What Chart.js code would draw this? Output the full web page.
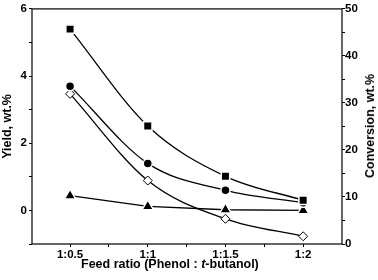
<!DOCTYPE html>
<html lang="en">
<head>
    <meta charset="UTF-8">
    <title>Yield and conversion vs feed ratio</title>
    <script src="https://cdn.jsdelivr.net/npm/chart.js"></script>
    <style>
        body {
            margin: 0;
            background: #fff;
        }
        .wrap {
            position: relative;
            width: 378px;
            height: 280px;
        }
        .x-title, .y2-title {
            position: absolute;
            font: bold 12.5px "Liberation Sans", Arial, sans-serif;
            color: #000;
            white-space: nowrap;
        }
        .x-title {
            left: 81px;
            top: 257px;
        }
        .y2-title {
            left: 370px;
            top: 126px;
            transform: translate(-50%, -50%) rotate(-90deg);
        }
    </style>
</head>
<body>
    <div class="wrap">
        <canvas id="chart" width="378" height="280"></canvas>
        <div class="x-title">Feed ratio (Phenol : <i>t</i>-butanol)</div>
        <div class="y2-title">Conversion, wt.%</div>
    </div>
    <script>
        // feed ratios on the x axis
        const ratios = ['1:0.5', '1:1', '1:1.5', '1:2'];
        // conversion, wt.% (right axis)
        const conversion = [45.7, 25.1, 14.4, 9.3];
        // yields, wt.% (left axis)
        const yieldCircle = [3.7, 1.4, 0.6, 0.23];
        const yieldDiamond = [3.47, 0.89, -0.25, -0.77];
        const yieldTriangle = [0.44, 0.12, 0.02, 0.0];
        const yieldTicks = [-1, 0, 1, 2, 3, 4, 5, 6];
        const convTicks = [0, 5, 10, 15, 20, 25, 30, 35, 40, 45, 50];

        const pts = arr => arr.map((v, i) => ({ x: i, y: v }));
        const font = { family: '"Liberation Sans", Arial, sans-serif', weight: 'bold', size: 11.5 };
        const titleFont = { family: '"Liberation Sans", Arial, sans-serif', weight: 'bold', size: 12.5 };

        const frame = {
            id: 'frame',
            afterDraw(chart) {
                const a = chart.chartArea, ctx = chart.ctx;
                ctx.save();
                ctx.strokeStyle = '#000';
                ctx.lineWidth = 1.2;
                ctx.strokeRect(a.left, a.top, a.right - a.left, a.bottom - a.top);
                ctx.restore();
            }
        };

        const base = {
            borderColor: '#000',
            borderWidth: 1.3,
            pointBackgroundColor: '#000',
            pointBorderColor: '#fff',
            pointBorderWidth: 1.5,
            cubicInterpolationMode: 'monotone',
            fill: false
        };

        new Chart(document.getElementById('chart'), {
            type: 'line',
            data: {
                datasets: [
                    Object.assign({}, base, { label: 'Conversion', data: pts(conversion), yAxisID: 'y2', pointStyle: 'rect', pointRadius: 6 }),
                    Object.assign({}, base, { label: 'Circle', data: pts(yieldCircle), yAxisID: 'y', pointStyle: 'circle', pointRadius: 4.5 }),
                    Object.assign({}, base, { label: 'Diamond', data: pts(yieldDiamond), yAxisID: 'y', pointStyle: 'rectRot', pointRadius: 4.5,
                        pointBackgroundColor: '#fff', pointBorderColor: '#000', pointBorderWidth: 1 }),
                    Object.assign({}, base, { label: 'Triangle', data: pts(yieldTriangle), yAxisID: 'y', pointStyle: 'triangle', pointRadius: 6.5,
                        cubicInterpolationMode: 'default', tension: 0 })
                ]
            },
            options: {
                responsive: false,
                animation: false,
                layout: { padding: { top: 7, left: 0, right: 0, bottom: 0 } },
                plugins: { legend: { display: false }, tooltip: { enabled: false } },
                scales: {
                    x: {
                        type: 'linear',
                        min: -0.49,
                        max: 3.5,
                        afterBuildTicks: s => { s.ticks = [0, 0.5, 1, 1.5, 2, 2.5, 3].map(v => ({ value: v })); },
                        afterFit: s => { s.height = 36; },
                        ticks: {
                            color: '#000', font: font, padding: 1, maxRotation: 0, autoSkip: false,
                            callback: v => Number.isInteger(v) ? ratios[v] : ''
                        },
                        grid: { drawOnChartArea: false, color: '#000', tickLength: 3, lineWidth: 1 },
                        border: { display: false }
                    },
                    y: {
                        position: 'left',
                        min: -1,
                        max: 6,
                        afterBuildTicks: s => { s.ticks = yieldTicks.map(v => ({ value: v })); },
                        afterFit: s => { s.width = 32; },
                        title: { display: true, text: 'Yield, wt.%', color: '#000', font: titleFont, padding: 0 },
                        ticks: {
                            color: '#000', font: font, padding: 2, autoSkip: false,
                            callback: v => (v >= 0 && v % 2 === 0) ? String(v) : ''
                        },
                        grid: { drawOnChartArea: false, color: '#000', tickLength: 3, lineWidth: 1 },
                        border: { display: false }
                    },
                    y2: {
                        position: 'right',
                        min: 0,
                        max: 50,
                        afterBuildTicks: s => { s.ticks = convTicks.map(v => ({ value: v })); },
                        afterFit: s => { s.width = 36; },
                        ticks: {
                            color: '#000', font: font, padding: 0, autoSkip: false,
                            callback: v => v % 10 === 0 ? String(v) : ''
                        },
                        grid: { drawOnChartArea: false, color: '#000', tickLength: 3, lineWidth: 1 },
                        border: { display: false }
                    }
                }
            },
            plugins: [frame]
        });
    </script>
</body>
</html>
